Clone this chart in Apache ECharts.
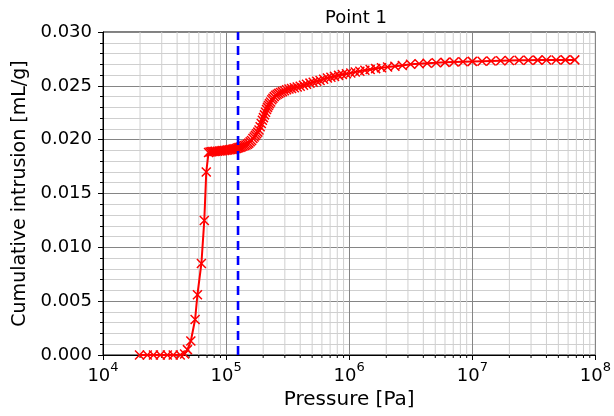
<!DOCTYPE html>
<html>
<head>
<meta charset="utf-8">
<script src="https://cdn.jsdelivr.net/npm/echarts@6/dist/echarts.min.js"></script>
<style>html,body{margin:0;padding:0;background:#fff;}#c{width:614px;height:416px;}</style>
</head>
<body>
<div id="c"></div>
<script>
// Pressure [Pa]
const pressure = [
  1.98e4, 2.29e4, 2.57e4, 2.92e4, 3.33e4, 3.72e4, 4.24e4, 4.6e4,
  4.85e4, 5.17e4, 5.6e4, 5.85e4, 6.3e4, 6.65e4, 6.9e4, 7.2e4,
  7.4e4, 7.6e4, 7.8e4, 8.0e4, 8.2e4, 8.5e4, 8.8e4, 9.1e4, 9.4e4, 9.7e4,
  1.0e5, 1.03e5, 1.06e5, 1.09e5, 1.12e5, 1.15e5, 1.18e5, 1.21e5, 1.24e5, 1.27e5, 1.30e5,
  1.33e5, 1.37e5, 1.41e5, 1.45e5, 1.49e5, 1.53e5, 1.57e5, 1.61e5, 1.65e5, 1.69e5, 1.73e5, 1.77e5, 1.81e5, 1.85e5, 1.89e5, 1.93e5, 1.97e5,
  2.01e5, 2.05e5, 2.09e5, 2.13e5, 2.17e5, 2.21e5, 2.25e5, 2.3e5, 2.35e5, 2.4e5, 2.46e5, 2.53e5, 2.6e5, 2.68e5, 2.77e5, 2.87e5, 2.98e5,
  3.1e5, 3.24e5, 3.4e5, 3.58e5, 3.78e5, 4.0e5, 4.25e5, 4.5e5, 4.8e5,
  5.1e5, 5.45e5, 5.8e5, 6.2e5, 6.65e5, 7.1e5, 7.6e5, 8.2e5, 8.8e5, 9.5e5,
  1.03e6, 1.12e6, 1.22e6, 1.34e6, 1.48e6, 1.64e6, 1.83e6, 2.05e6, 2.35e6, 2.7e6, 3.15e6, 3.7e6, 4.3e6, 5.1e6, 6.0e6, 7.1e6, 8.4e6,
  1.0e7, 1.2e7, 1.42e7, 1.7e7, 2.0e7, 2.4e7, 2.85e7, 3.4e7, 4.0e7, 4.8e7, 5.7e7, 6.8e7
];
// Cumulative intrusion [mL/g]
const intrusion = [
  0, 0, 0, 0, 0, 0, 0, 0.0001,
  0.0005, 0.0013, 0.0033, 0.0056, 0.0085, 0.0125, 0.0170, 0.0188,
  0.01885, 0.01888, 0.0189, 0.0189, 0.01892, 0.01893, 0.01895, 0.01896, 0.01898, 0.019,
  0.01902, 0.01904, 0.01906, 0.01908, 0.0191, 0.01912, 0.01915, 0.01918, 0.01922, 0.01926, 0.0193,
  0.01935, 0.0194, 0.01945, 0.0195, 0.01958, 0.01968, 0.0198, 0.01993, 0.0201, 0.02025, 0.0204, 0.02055, 0.0207, 0.0209, 0.0212, 0.0215, 0.0218,
  0.02205, 0.0223, 0.02255, 0.0228, 0.0230, 0.02318, 0.02335, 0.0235, 0.0237, 0.02385, 0.0240, 0.02412, 0.02422, 0.0243, 0.02438, 0.02446, 0.02455,
  0.02463, 0.0247, 0.02476, 0.02483, 0.0249, 0.02497, 0.02505, 0.02515, 0.02525,
  0.02533, 0.02542, 0.0255, 0.02562, 0.02572, 0.0258, 0.02588, 0.02597, 0.02605, 0.02613,
  0.0262, 0.02628, 0.02636, 0.02644, 0.02652, 0.0266, 0.02668, 0.02675, 0.02682, 0.02689, 0.027, 0.02705, 0.0271, 0.02714, 0.02718, 0.02721, 0.02724,
  0.02727, 0.02729, 0.02731, 0.02733, 0.02735, 0.02737, 0.02738, 0.02739, 0.0274, 0.0274, 0.02741, 0.02741
];
// Vertical reference line (Pa)
const refPressure = 1.25e5;
// Minor grid positions on the log x axis
const minorX = [
  2e4,3e4,4e4,5e4,6e4,7e4,8e4,9e4,
  2e5,3e5,4e5,5e5,6e5,7e5,8e5,9e5,
  2e6,3e6,4e6,5e6,6e6,7e6,8e6,9e6,
  2e7,3e7,4e7,5e7,6e7,7e7,8e7,9e7
];
const xTickExps = [4, 5, 6, 7, 8];
const yTicks = [0, 0.005, 0.010, 0.015, 0.020, 0.025, 0.030];

const FONT = 'DejaVu Sans';
const chart = echarts.init(document.getElementById('c'));
const seriesData = pressure.map((p, i) => [p, intrusion[i]]);

chart.setOption({
  animation: false,
  backgroundColor: '#fff',
  title: {
    text: 'Point 1', left: 351, top: 4, textAlign: 'center',
    textStyle: { fontFamily: FONT, fontSize: 18, fontWeight: 'normal', color: '#000' }
  },
  grid: {
    left: 103, right: 16, top: 32, bottom: 61,
    show: true, borderColor: '#000', borderWidth: 1, backgroundColor: 'transparent'
  },
  xAxis: {
    type: 'log', logBase: 10, min: 1e4, max: 1e8, interval: 1,
    name: 'Pressure [Pa]', nameLocation: 'middle', nameGap: 35,
    nameTextStyle: { fontFamily: FONT, fontSize: 20, color: '#000' },
    axisLine: { show: true, lineStyle: { color: '#000', width: 1 } },
    axisTick: { show: true, length: 5, lineStyle: { color: '#000' } },
    axisLabel: {
      margin: 6,
      formatter: function (v) {
        const e = Math.round(Math.log10(v));
        return xTickExps.indexOf(e) >= 0 ? '{b|10}{s|' + e + '}' : '';
      },
      rich: {
        b: { fontFamily: FONT, fontSize: 18, color: '#000', lineHeight: 24, verticalAlign: 'bottom' },
        s: { fontFamily: FONT, fontSize: 13, color: '#000', lineHeight: 24, verticalAlign: 'top' }
      }
    },
    splitLine: { show: true, lineStyle: { color: '#858585', width: 1 } },
    minorTick: { show: false },
    minorSplitLine: { show: false }
  },
  yAxis: {
    type: 'value', min: 0, max: 0.03, interval: 0.005,
    name: 'Cumulative intrusion [mL/g]', nameLocation: 'middle', nameGap: 71,
    nameTextStyle: { fontFamily: FONT, fontSize: 19, color: '#000' },
    axisLine: { show: true, lineStyle: { color: '#000', width: 1 } },
    axisTick: { show: true, length: 5, lineStyle: { color: '#000' } },
    minorTick: { show: true, splitNumber: 5, length: 3, lineStyle: { color: '#000' } },
    axisLabel: {
      margin: 11, fontFamily: FONT, fontSize: 18, color: '#000',
      formatter: v => yTicks.some(t => Math.abs(t - v) < 1e-9) ? v.toFixed(3) : ''
    },
    splitLine: { show: true, lineStyle: { color: '#858585', width: 1 } },
    minorSplitLine: { show: true, lineStyle: { color: '#cfcfcf', width: 1 } }
  },
  series: [
    {
      type: 'custom', silent: true, clip: false, z: 1,
      data: minorX.map(p => [p, 0]),
      encode: { x: 0, y: 1 },
      renderItem: function (params, api) {
        const p = api.value(0);
        const b = api.coord([p, 0]);
        const t = api.coord([p, 0.03]);
        return {
          type: 'group',
          children: [
            { type: 'line', shape: { x1: b[0], y1: b[1], x2: t[0], y2: t[1] },
              style: { stroke: '#cfcfcf', lineWidth: 1 } },
            { type: 'line', shape: { x1: b[0], y1: b[1], x2: b[0], y2: b[1] + 3 },
              style: { stroke: '#000', lineWidth: 1 } }
          ]
        };
      }
    },
    {
      type: 'line', z: 3,
      data: seriesData,
      showAllSymbol: true,
      symbol: 'path://M0,0L10,10M10,0L0,10',
      symbolSize: 9,
      itemStyle: { color: '#ff0000', borderColor: '#ff0000', borderWidth: 1.5 },
      lineStyle: { color: '#ff0000', width: 2 },
      clip: true
    },
    {
      type: 'line', z: 4, symbol: 'none',
      data: [[refPressure, 0], [refPressure, 0.03]],
      lineStyle: { color: '#0000ff', width: 2.6, type: [9, 6] }
    }
  ]
});
</script>
</body>
</html>
